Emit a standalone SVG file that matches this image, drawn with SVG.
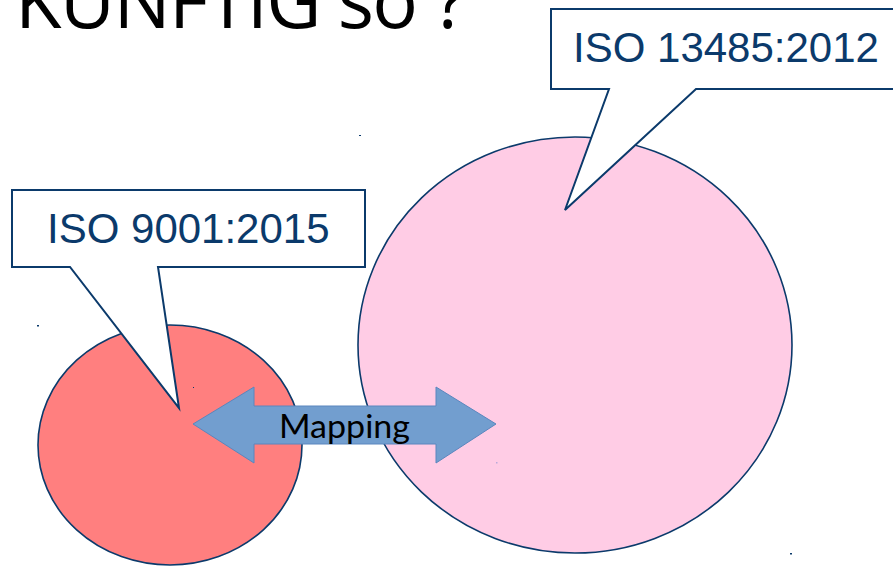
<svg xmlns="http://www.w3.org/2000/svg" width="893" height="566" viewBox="0 0 893 566">
<defs>
<style>
.circ{stroke:#0B3A6B;stroke-width:1.6}
.callout{fill:#FFFFFF;stroke:#0B3A6B;stroke-width:2;stroke-linejoin:miter}
.ctext{font-family:"Liberation Sans",Arial,sans-serif;font-size:42px;fill:#0B3A6B}
.dot{fill:#0B3A6B}
</style>
</defs>
<rect width="893" height="566" fill="#FFFFFF"/>
<g id="title">
<text x="15" y="28" font-family="'Open Sans',sans-serif" font-size="76" fill="#000000" textLength="452">KÜNFTIG so ?</text>
</g>
<g id="iso9001-circle">
<ellipse class="circ" cx="170" cy="445" rx="132" ry="120" fill="#FF7F7F"/>
</g>
<g id="iso13485-circle">
<ellipse class="circ" cx="575" cy="345" rx="217" ry="208" fill="#FFCCE5"/>
</g>
<g id="iso9001-callout">
<path class="callout" d="M12,190 H365 V267 H158 L179,408 L70,267 H12 Z"/>
<text class="ctext" x="47" y="243">ISO 9001:2015</text>
</g>
<g id="iso13485-callout">
<path class="callout" d="M551,9 H900 V89 H696 L565,210 L609,89 H551 Z"/>
<text class="ctext" x="573" y="62">ISO 13485:2012</text>
</g>
<g id="connectors">
<path d="M193,424 L254,387 V406 H436 V387 L496,424 L436,463 V444 H254 V463 Z" fill="#729ECF" stroke="#5A86BE" stroke-width="1"/>
<text x="279" y="438" font-family="Lato,'Liberation Sans',sans-serif" font-size="33" fill="#000000" textLength="131" lengthAdjust="spacingAndGlyphs">Mapping</text>
</g>
<g id="marks">
<rect class="dot" x="359" y="135" width="2" height="1"/>
<rect class="dot" x="37" y="325" width="2" height="1.5"/>
<rect class="dot" x="790" y="553" width="2" height="1.5"/>
<rect x="496" y="462" width="1.5" height="1.5" fill="#B9A9D9"/>
<rect class="dot" x="193" y="387" width="1" height="1"/>
</g>
</svg>
